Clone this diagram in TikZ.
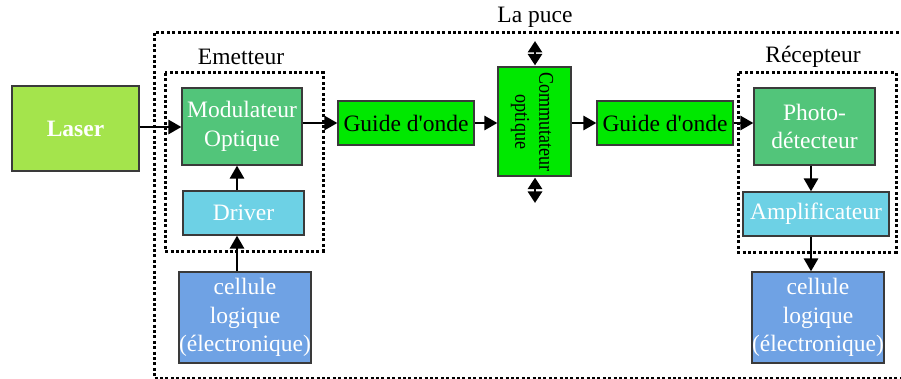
\documentclass[tikz,border=0pt]{standalone}
\usepackage{fontspec}
\setmainfont{Liberation Serif}[Ligatures=TeXOff]
\usetikzlibrary{arrows.meta}
\definecolor{laserc}{HTML}{A4E44C}
\definecolor{modc}{HTML}{52C57A}
\definecolor{drvc}{HTML}{6DD1E5}
\definecolor{cellc}{HTML}{6FA2E4}
\definecolor{guidec}{HTML}{00E800}
\definecolor{borderc}{HTML}{3A3A3A}
\tikzset{
  box/.style={draw=borderc, line width=1.2pt, rectangle, inner sep=0pt, align=center,
    font=\fontsize{23.5}{28.5}\selectfont},
  wtext/.style={text=white},
  arr/.style={line width=2.8pt, -{Triangle[length=13pt,width=14pt]}},
  darr/.style={line width=2.8pt, {Triangle[length=11.5pt,width=14pt]}-{Triangle[length=11.5pt,width=14pt]}},
  dotbox/.style={line width=3pt, dash pattern=on 3pt off 2.4pt},
  lbl/.style={font=\fontsize{23.5}{28.5}\selectfont, inner sep=0pt}
}
\begin{document}
\begin{tikzpicture}[x=1pt,y=-1pt]
\useasboundingbox (0,0) rectangle (901,379);
\clip (0,0) rectangle (901,379);
% dotted frames
\draw[dotbox] (154,33) rectangle (905,378);
\draw[dotbox] (165,73) rectangle (323,251);
\draw[dotbox] (738,73) rectangle (896,252);
% labels
\node[lbl] (puce) at (535,17) {La puce};
\node[lbl] (emet) at (241,57) {Emetteur};
\node[lbl] (recep) at (813,57) {Récepteur};
% boxes
\node[box, wtext, fill=laserc, minimum width=127, minimum height=85, font=\fontsize{23.5}{28.5}\selectfont\bfseries] (laser) at (75.5,128.5) {Laser};
\node[box, wtext, fill=modc, minimum width=120, minimum height=77] (mod) at (242,126.5) {Modulateur\\Optique};
\node[box, wtext, fill=drvc, minimum width=121, minimum height=44] (drv) at (243.5,213) {Driver};
\node[box, wtext, fill=cellc, minimum width=132, minimum height=91] (cell1) at (245,317.5) {cellule\\logique\\(électronique)};
\node[box, fill=guidec, minimum width=136, minimum height=44] (g1) at (406,123) {Guide d'onde};
\node[box, fill=guidec, minimum width=73, minimum height=109] (comm) at (534.5,121.5) {};
\node[rotate=-90, align=center, inner sep=0pt, font=\fontsize{21}{24}\selectfont] (commtxt) at (532,122) {\scalebox{0.86}[1]{Commutateur}\\\scalebox{0.86}[1]{optique}};
\node[box, fill=guidec, minimum width=136, minimum height=44] (g2) at (665,123) {Guide d'onde};
\node[box, wtext, fill=modc, minimum width=121, minimum height=77] (photo) at (814.5,126.5) {Photo-\\détecteur};
\node[box, wtext, fill=drvc, minimum width=146, minimum height=44] (ampl) at (816,214) {Amplificateur};
\node[box, wtext, fill=cellc, minimum width=132, minimum height=91] (cell2) at (818,317.5) {cellule\\logique\\(électronique)};
% free ends of switch arrows
\coordinate (ctop) at (535,41);
\coordinate (cbot) at (535,203);
% connectors
\draw[arr] ([yshift=1.5pt]laser.east) -- ([yshift=1.5pt]laser.east -| mod.west);
\draw[arr] (mod.east |- g1.west) -- (g1.west);
\draw[arr] (g1.east) -- (g1.east -| comm.west);
\draw[arr] (g2.west -| comm.east) -- (g2.west);
\draw[arr] (g2.east) -- (g2.east -| photo.west);
\draw[arr] ([xshift=-3.5pt]photo.south) -- ([xshift=-3.5pt]photo.south |- ampl.north);
\draw[arr] ([xshift=-5pt]ampl.south) -- ([xshift=-5pt]ampl.south |- cell2.north);
\draw[arr] ([xshift=-6.5pt]drv.north) -- ([xshift=-6.5pt]drv.north |- mod.south);
\draw[arr] ([xshift=-8pt]cell1.north) -- ([xshift=-8pt]cell1.north |- drv.south);
\draw[darr] ([yshift=1pt]comm.north -| ctop) -- (ctop);
\draw[darr] ([yshift=-1pt]comm.south -| cbot) -- (cbot);
\end{tikzpicture}
\end{document}
